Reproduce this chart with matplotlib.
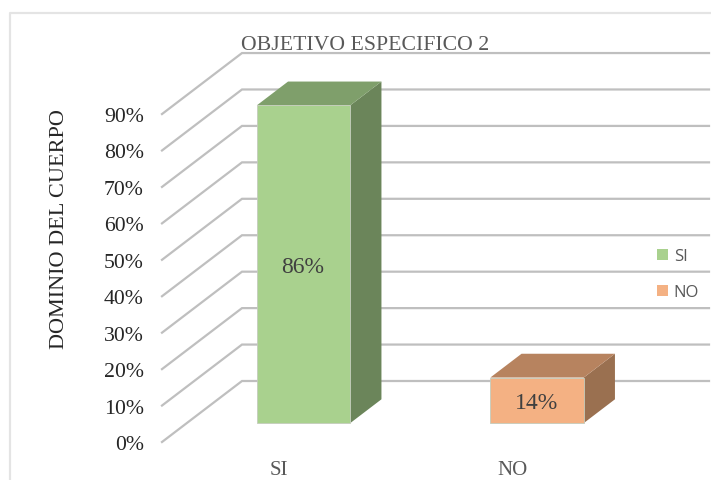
"""Excel style 3D column chart, drawn flat with an oblique depth offset."""

import matplotlib

matplotlib.use("Agg")
import matplotlib.pyplot as plt
from matplotlib.lines import Line2D
from matplotlib.patches import Patch, Polygon

categories = ["SI", "NO"]
bar_heights = [87.2, 12.5]  # as drawn in the picture
bar_labels = ["86%", "14%"]
y_ticks = [0, 10, 20, 30, 40, 50, 60, 70, 80, 90]

FRONT = ["#A9D18E", "#F4B183"]
TOP = ["#7F9F6B", "#B7835F"]
SIDE = ["#6B855A", "#9A7050"]
GRID = "#BFBFBF"
TEXT = "#595959"

W, H = 711, 481
# how far the back wall sits from the front plane, in data units
DEPTH_X, DEPTH_Y = 0.3426, 16.74
BAR_W = 0.40
D0, D1 = 0.31, 0.70

plt.rcParams.update({
    "font.family": ["Liberation Serif", "DejaVu Serif"],
    "axes.unicode_minus": False,
})


def proj(x, y, d):
    return x + d * DEPTH_X, y + d * DEPTH_Y


fig = plt.figure(figsize=(W / 100, H / 100), dpi=100)
ax = fig.add_axes([162 / W, 1 - 443 / H, 467 / W, 364.4 / H])
ax.set_xlim(0, 2)
ax.set_ylim(0, 100)
ax.patch.set_visible(False)
for s in ax.spines.values():
    s.set_visible(False)

# chart frame, only top and left are inside the crop
fig.add_artist(Line2D([10 / W, 10 / W, 1], [0, 1 - 14 / H, 1 - 14 / H],
                      color="#E4E4E4", lw=1.6))

for v in y_ticks:
    pts = [proj(0, v, 0), proj(0, v, 1), proj(2, v, 1)]
    ax.plot(*zip(*pts), color=GRID, lw=1.6, clip_on=False, solid_joinstyle="miter", zorder=1)

for i, (h, lab) in enumerate(zip(bar_heights, bar_labels)):
    x0, x1 = i + 0.5 - BAR_W / 2, i + 0.5 + BAR_W / 2
    front = [proj(x0, 0, D0), proj(x1, 0, D0), proj(x1, h, D0), proj(x0, h, D0)]
    top = [proj(x0, h, D0), proj(x1, h, D0), proj(x1, h, D1), proj(x0, h, D1)]
    side = [proj(x1, 0, D0), proj(x1, 0, D1), proj(x1, h, D1), proj(x1, h, D0)]
    ax.add_patch(Polygon(side, fc=SIDE[i], ec="none", clip_on=False, zorder=2))
    ax.add_patch(Polygon(top, fc=TOP[i], ec="none", clip_on=False, zorder=2))
    ax.add_patch(Polygon(front, fc=FRONT[i], ec="#C4CCBC", lw=0.6, clip_on=False, zorder=3))
    cx, cy = proj(i + 0.5, h / 2, D0)
    ax.text(cx - 0.004, cy - 0.6, lab, ha="center", va="center", fontsize=17, color="#404040", zorder=4)

ax.set_yticks(y_ticks, [f"{v}%" for v in y_ticks])
ax.set_xticks([0.5, 1.5], categories)
ax.tick_params(axis="y", length=0, pad=13, labelsize=15.7, labelcolor="#262626")
ax.tick_params(axis="x", length=0, pad=12.8, labelsize=15, labelcolor=TEXT)
ax.set_ylabel("DOMINIO DEL CUERPO", fontsize=16, color="#262626")
ax.yaxis.set_label_coords(-93 / 467, (443 - 229) / 364.4)

fig.text(365 / W, 1 - 45.5 / H, "OBJETIVO ESPECIFICO 2", ha="center", va="center",
         fontsize=15.7, color=TEXT)

handles = [Patch(fc=FRONT[0], label=categories[0]), Patch(fc=FRONT[1], label=categories[1])]
leg = fig.legend(handles=handles, loc="center left", bbox_to_anchor=(657 / W, 1 - 275.5 / H),
                 frameon=False, handlelength=0.66, handleheight=0.66, handletextpad=0.35,
                 labelspacing=1.2, borderpad=0, borderaxespad=0,
                 prop={"family": ["Open Sans", "DejaVu Sans"], "size": 12})
for t in leg.get_texts():
    t.set_color(TEXT)

fig.savefig("out.png", dpi=100, facecolor="white")
